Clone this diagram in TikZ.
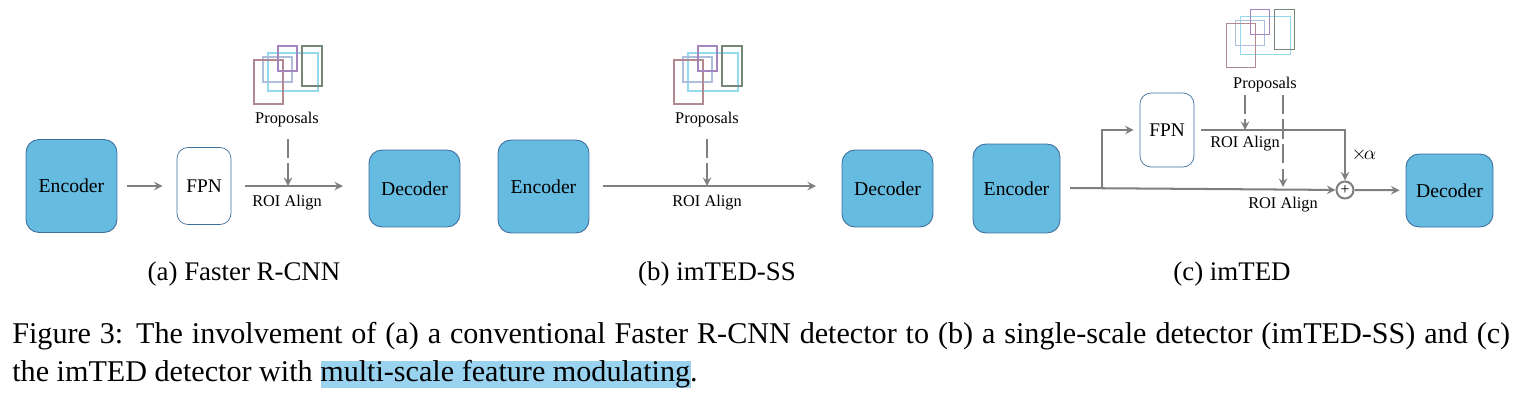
\documentclass[tikz,border=0pt]{standalone}
\usepackage{fontspec}
\setmainfont{Liberation Serif}
\usepackage{xcolor}
\usepackage{tikz}
\usetikzlibrary{positioning,shapes,arrows,calc}

\definecolor{blockblue}{HTML}{66BBE0}
\definecolor{blockedge}{HTML}{3D6E9E}
\definecolor{flowgray}{HTML}{7F7F7F}
\definecolor{markblue}{HTML}{9AD3F0}
\definecolor{boxmaroon}{HTML}{B08A90}
\definecolor{boxslate}{HTML}{AFBEDC}
\definecolor{boxcyan}{HTML}{93DAEE}
\definecolor{boxviolet}{HTML}{A585BE}
\definecolor{boxolive}{HTML}{76877A}

\tikzset{
    encbox/.style={draw=blockedge, fill=blockblue, rounded corners=0.26cm, line width=0.5pt, font=\fontsize{11.2}{13}\selectfont, inner sep=0pt},
    fpnbox/.style={draw=blockedge, fill=white, rounded corners=0.22cm, line width=0.4pt, font=\fontsize{11}{13}\selectfont, minimum width=1.08cm, inner sep=0pt},
    flow/.style={->, >=stealth, draw=flowgray, line width=1.15pt},
    dashflow/.style={flow, dashed, dash pattern=on 11pt off 3pt},
    smalllabel/.style={font=\fontsize{9.3}{11}\selectfont, inner sep=0pt},
    sublabel/.style={font=\fontsize{15.3}{18}\selectfont, inner sep=0pt},
    proposals/.pic={
        \draw[draw=boxcyan, line width=0.8pt] (14,-7) rectangle (64,31);
        \draw[draw=boxslate, line width=0.7pt] (9,-3) rectangle (38,22);
        \draw[draw=boxmaroon, line width=0.7pt] (0,0) rectangle (29,44);
        \draw[draw=boxviolet, line width=0.7pt] (24,-14) rectangle (43,11);
        \draw[draw=boxolive, line width=0.7pt] (48,-14) rectangle (68,26);
    }
}

\begin{document}
\begin{tikzpicture}[x=0.02cm, y=-0.02cm]
    \useasboundingbox (0,0) rectangle (1522,410);

    % (a)
    \node[encbox, minimum width=1.82cm, minimum height=1.86cm] (enca) at (71.5,186) {Encoder};
    \node[fpnbox, minimum height=1.54cm] (fpna) at (204,186) {FPN};
    \node[encbox, minimum width=1.82cm, minimum height=1.54cm] (deca) at (414.5,188.5) {Decoder};
    \pic at (254,60) {proposals};
    \node[smalllabel] (propa) at (287,120) {Proposals};
    \node[smalllabel] (roia) at (287,203) {ROI Align};
    \coordinate (joina) at (288,186);
    \coordinate (enda) at (343,186);
    \draw[flow, shorten <=0.2cm, shorten >=0.28cm] (enca) -- (fpna);
    \draw[flow, shorten <=0.28cm] (fpna) -- (enda);
    \draw[dashflow, shorten <=0.22cm] (propa.south -| joina) -- (joina);

    % (b)
    \node[encbox, minimum width=1.82cm, minimum height=1.86cm] (encb) at (543.5,186.5) {Encoder};
    \node[encbox, minimum width=1.82cm, minimum height=1.54cm] (decb) at (887.5,188.5) {Decoder};
    \pic at (674,60) {proposals};
    \node[smalllabel] (propb) at (707,120) {Proposals};
    \node[smalllabel] (roib) at (707,203) {ROI Align};
    \coordinate (joinb) at (707,186);
    \coordinate (endb) at (816,186);
    \draw[flow, shorten <=0.28cm] (encb.east |- joinb) -- (endb);
    \draw[dashflow, shorten <=0.22cm] (propb.south -| joinb) -- (joinb);

    % (c)
    \node[encbox, minimum width=1.74cm, minimum height=1.78cm] (encc) at (1016.5,188.5) {Encoder};
    \node[fpnbox, minimum height=1.48cm] (fpnc) at (1167,130) {FPN};
    \node[encbox, minimum width=1.74cm, minimum height=1.46cm] (decc) at (1449.5,190.5) {Decoder};
    \node[circle, draw=flowgray, line width=1.15pt, minimum size=0.34cm, inner sep=0pt, font=\fontsize{9}{9}\selectfont] (sumc) at (1345,190) {+};
    \pic at (1226.7,23.3) {proposals};
    \node[smalllabel] (propc) at (1265,85) {Proposals};
    \node[smalllabel] (roic) at (1245,144) {ROI Align};
    \node[smalllabel] (roid) at (1283,205) {ROI Align};
    \node[font=\fontsize{10.5}{12}\selectfont, inner sep=0pt] (alphac) at (1364,155) {$\times$\kern-1.5pt$\alpha$};
    \coordinate (startc) at (1070,188);
    \coordinate (branchc) at (1102,188);
    \coordinate (joinc) at (1245,130);
    \coordinate (joind) at (1283,187);
    \coordinate (cornerc) at (1345,130);
    \draw[flow] (startc) -- (sumc);
    \draw[flow, shorten >=0.12cm] (branchc) |- (fpnc);
    \draw[flow, shorten <=0.14cm] (fpnc) -- (cornerc) -- (sumc);
    \draw[flow, shorten >=0.12cm] (sumc) -- (decc);
    \draw[dashflow, shorten <=0.04cm] (propc.south -| joinc) -- (joinc);
    \draw[dashflow, shorten <=0.04cm] (propc.south -| joind) -- (joind);

    % sub captions
    \node[sublabel] (capa) at (244,274) {(a) Faster R-CNN};
    \node[sublabel] (capb) at (717,274) {(b) imTED-SS};
    \node[sublabel] (capc) at (1232,274) {(c) imTED};

    % figure caption
    \fill[markblue] (321,361) rectangle (691,388);
    \node[anchor=north west, inner sep=0pt, text width=29.96cm, align=justify, font=\fontsize{17.15}{21.5}\selectfont] (figcap) at (12,322)
        {Figure 3: The involvement of (a) a conventional Faster R-CNN detector to (b) a single-scale detector (imTED-SS) and (c)\linebreak the imTED detector with multi-scale feature modulating.};
\end{tikzpicture}
\end{document}
